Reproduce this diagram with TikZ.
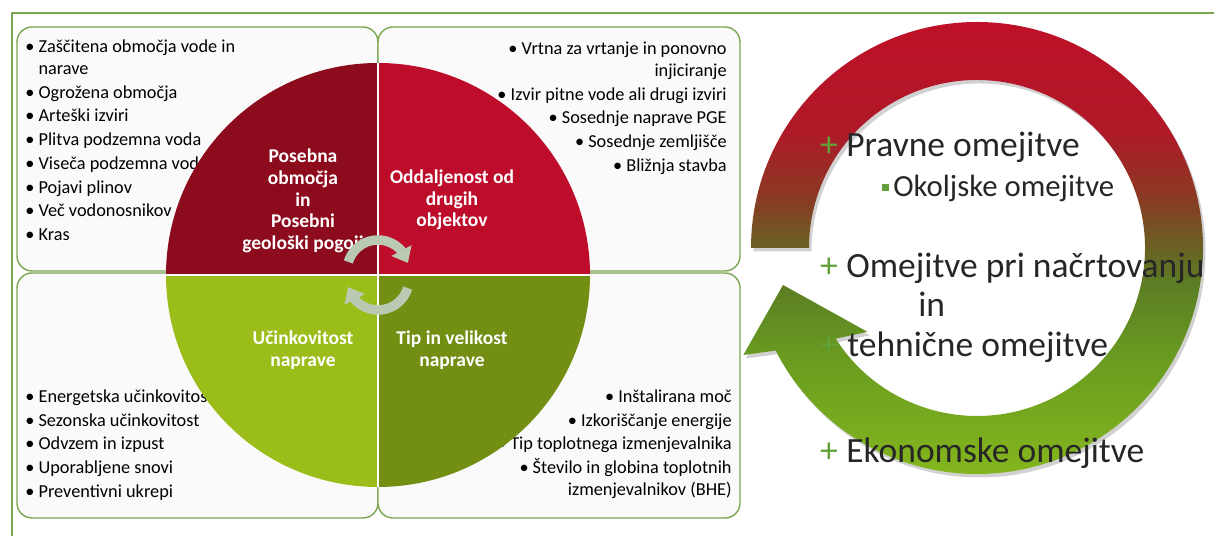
\documentclass[tikz,border=0pt]{standalone}
\usepackage{fontspec}
\setmainfont{Carlito}
\usetikzlibrary{arrows.meta,bending}

\definecolor{framegreen}{RGB}{122,166,80}
\definecolor{boxfill}{RGB}{250,250,250}
\definecolor{qdarkred}{RGB}{140,12,30}
\definecolor{qred}{RGB}{190,13,42}
\definecolor{qlime}{RGB}{155,189,26}
\definecolor{qolive}{RGB}{114,143,20}
\definecolor{cyclegray}{RGB}{186,202,178}
\definecolor{txtdark}{RGB}{38,38,38}
\definecolor{plusgreen}{RGB}{98,160,58}
% ring colours, bottom to top
\definecolor{ringA}{RGB}{132,182,30}
\definecolor{ringB}{RGB}{105,155,32}
\definecolor{ringC}{RGB}{92,125,36}
\definecolor{ringD}{RGB}{110,90,35}
\definecolor{ringE}{RGB}{140,55,35}
\definecolor{ringF}{RGB}{175,25,40}
\definecolor{ringG}{RGB}{190,16,40}
\pgfdeclareverticalshading{ringshade}{100bp}{color(0bp)=(ringA); color(25bp)=(ringA); color(38bp)=(ringB);
	color(46bp)=(ringC); color(51bp)=(ringD); color(56bp)=(ringE); color(63bp)=(ringF); color(75bp)=(ringG); color(100bp)=(ringG)}

\tikzset{
	box/.style={draw=framegreen, line width=0.8pt, fill=boxfill, rounded corners=0.3cm},
	lst/.style={inner sep=0pt, font=\fontsize{10.4}{12.5}\selectfont, text=black},
	quadlbl/.style={align=center, text=white, font=\bfseries\fontsize{11.1}{12.4}\selectfont},
	bigtxt/.style={inner sep=0pt, anchor=base west, text=txtdark, font=\fontsize{20.2}{24}\selectfont},
	subtxt/.style={inner sep=0pt, anchor=base west, text=txtdark, font=\fontsize{17.5}{21}\selectfont},
	plusmark/.style={inner sep=0pt, anchor=base, text=plusgreen, font=\fontsize{20.2}{24}\selectfont},
	cyc/.style={draw=cyclegray, line width=0.19cm, -{Triangle[width=0.44cm,length=0.28cm]}}
}
\newcommand\bul{\textbullet\ }

\begin{document}
\begin{tikzpicture}[line join=round]
	\useasboundingbox (0,0) rectangle (24.28,10.72);
	% frame
	\draw[framegreen, line width=0.9pt] (0.24,0) -- (0.24,10.46) -- (24.28,10.46);
	% four boxes
	\draw[box] (0.34,5.30) rectangle (7.56,10.18);
	\draw[box] (7.56,5.30) rectangle (14.80,10.18);
	\draw[box] (0.34,0.36) rectangle (7.56,5.26);
	\draw[box] (7.56,0.36) rectangle (14.80,5.26);
	% lists
	\node[lst, align=left, anchor=north west] (tl) at (0.50,9.93)
		{\bul Zaščitena območja vode in\\ \hphantom{\bul}narave\\[1pt] \bul Ogrožena območja\\[1pt] \bul Arteški izviri\\[1pt]
		 \bul Plitva podzemna voda\\[1pt] \bul Viseča podzemna voda\\[1pt] \bul Pojavi plinov\\[1pt] \bul Več vodonosnikov\\[1pt] \bul Kras};
	\node[lst, align=right, anchor=north east] (tr) at (14.54,9.89)
		{\bul Vrtna za vrtanje in ponovno\\ injiciranje\\[1pt] \bul Izvir pitne vode ali drugi izviri\\[1pt]
		 \bul Sosednje naprave PGE\\[1pt] \bul Sosednje zemljišče\\[1pt] \bul Bližnja stavba};
	\node[lst, align=left, anchor=north west] (bl) at (0.50,2.93)
		{\bul Energetska učinkovitost\\[1pt] \bul Sezonska učinkovitost\\[1pt] \bul Odvzem in izpust\\[1pt]
		 \bul Uporabljene snovi\\[1pt] \bul Preventivni ukrepi};
	\node[lst, align=right, anchor=north east] (br) at (14.64,2.93)
		{\bul Inštalirana moč\\[1pt] \bul Izkoriščanje energije\\[1pt] \bul Tip toplotnega izmenjevalnika\\[1pt]
		 \bul Število in globina toplotnih\\ izmenjevalnikov (BHE)};
	% circle
	\coordinate (c) at (7.56,5.22);
	\foreach \col/\a in {qred/0, qdarkred/90, qlime/180, qolive/270}
		\fill[\col] (c) -- ++(\a:4.24) arc[start angle=\a, end angle=\a+90, radius=4.24] -- cycle;
	\draw[white, line width=1pt] ([xshift=-4.24cm]c) -- ([xshift=4.24cm]c) ([yshift=-4.24cm]c) -- ([yshift=4.24cm]c);
	\node[quadlbl] (q1) at (6.06,6.70) {Posebna\\ območja\\ in\\ Posebni\\ geološki pogoji};
	\node[quadlbl] (q2) at (9.04,6.72) {Oddaljenost od\\ drugih\\ objektov};
	\node[quadlbl] (q3) at (6.06,3.72) {Učinkovitost\\ naprave};
	\node[quadlbl] (q4) at (9.04,3.72) {Tip in velikost\\ naprave};
	\draw[cyc] ([shift={(163:0.62)}]7.56,5.30) arc[start angle=163, end angle=15, radius=0.62];
	\draw[cyc] ([shift={(-17:0.62)}]7.56,5.14) arc[start angle=-17, end angle=-165, radius=0.62];
	% big cycle arrow
	\coordinate (rc) at (19.54,5.76);
	\shade[shading=ringshade,
		preaction={fill=black, opacity=0.18, transform canvas={shift={(0.05,-0.07)}}}]
		([shift={(180:4.52)}]rc) arc[start angle=180, end angle=-153, radius=4.52]
		-- ([shift={(-155.4:5.14)}]rc) -- ([shift={(-169.2:3.95)}]rc) -- ([shift={(-142.6:2.76)}]rc)
		-- ([shift={(-147.3:3.36)}]rc) arc[start angle=-147.3, end angle=180, radius=3.36] -- cycle;
	\node[plusmark] (p1) at (16.58,7.58) {+};
	\node[bigtxt] (t1) at (16.92,7.58) {Pravne omejitve};
	\fill[plusgreen] (17.63,6.89) rectangle ++(0.14,0.14);
	\node[subtxt] (t2) at (17.86,6.78) {Okoljske omejitve};
	\node[plusmark] (p3) at (16.58,5.16) {+};
	\node[bigtxt] (t3) at (16.92,5.16) {Omejitve pri načrtovanju};
	\node[bigtxt] (t3b) at (18.36,4.38) {in};
	\node[plusmark] (p4) at (16.58,3.58) {+};
	\node[bigtxt] (t4) at (16.94,3.58) {tehnične omejitve};
	\node[plusmark] (p5) at (16.58,1.46) {+};
	\node[bigtxt] (t5) at (16.92,1.46) {Ekonomske omejitve};
\end{tikzpicture}
\end{document}
